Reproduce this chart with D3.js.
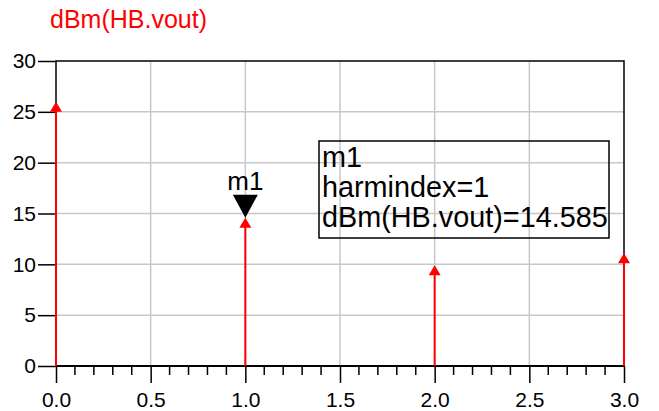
<!DOCTYPE html>
<html>
<head>
<meta charset="utf-8">
<script src="https://cdn.jsdelivr.net/npm/d3@7"></script>
<style>
  body { margin: 0; background: #fff; }
  text { font-family: Arial, "Liberation Sans", sans-serif; }
</style>
</head>
<body>
<svg id="chart"></svg>
<script>
// harmonic spectrum data
const harmindex = [0, 1, 2, 3];
const dbmVout = [26.0, 14.585, 9.9, 11.1];
const xTickLabels = ["0.0", "0.5", "1.0", "1.5", "2.0", "2.5", "3.0"];
const yTickLabels = ["0", "5", "10", "15", "20", "25", "30"];
const markerName = "m1";
const markerIndex = 1;

const W = 659, H = 411;
const margin = { top: 61, right: 35, bottom: 45, left: 56 };

const svg = d3.select("#chart").attr("width", W).attr("height", H);

const x = d3.scaleLinear().domain([0, 3]).range([margin.left, W - margin.right]);
const y = d3.scaleLinear().domain([0, 30]).range([H - margin.bottom, margin.top]);

// title
svg.append("text")
   .attr("x", 50).attr("y", 28)
   .attr("fill", "#ff0000")
   .attr("font-size", 25)
   .text("dBm(HB.vout)");

// grid lines
const gx = xTickLabels.map(Number).filter(v => v > 0 && v < 3);
const gy = yTickLabels.map(Number).filter(v => v > 0 && v < 30);
svg.append("g").selectAll("line").data(gx).enter().append("line")
   .attr("x1", d => x(d)).attr("x2", d => x(d))
   .attr("y1", y(0)).attr("y2", y(30))
   .attr("stroke", "#c8c8c8").attr("stroke-width", 1.5);
svg.append("g").selectAll("line").data(gy).enter().append("line")
   .attr("x1", x(0)).attr("x2", x(3))
   .attr("y1", d => y(d)).attr("y2", d => y(d))
   .attr("stroke", "#c8c8c8").attr("stroke-width", 1.5);

// frame (top, left, right)
svg.append("path")
   .attr("d", `M${x(0)},${y(0)}V${y(30)}H${x(3)}V${y(0)}`)
   .attr("fill", "none").attr("stroke", "#000").attr("stroke-width", 1.5);

// x axis: major ticks every 0.5, minor every 0.1
const xAxis = d3.axisBottom(x)
   .tickValues(xTickLabels.map(Number))
   .tickFormat((d, i) => xTickLabels[i])
   .tickSize(17).tickPadding(9);
const gX = svg.append("g")
   .attr("transform", `translate(0,${y(0)})`)
   .call(xAxis);
gX.select(".domain").attr("stroke-width", 2).attr("d", `M${x(0)},0H${x(3)}`);
gX.selectAll(".tick line").attr("stroke-width", 1.5);
gX.selectAll(".tick text").attr("font-size", 21).attr("fill", "#000")
   .attr("font-family", "Arial, 'Liberation Sans', sans-serif");

const minor = d3.range(0, 31).map(i => i / 10).filter(v => Math.round(v * 10) % 5 !== 0);
svg.append("g").selectAll("line").data(minor).enter().append("line")
   .attr("x1", d => x(d)).attr("x2", d => x(d))
   .attr("y1", y(0)).attr("y2", y(0) + 9)
   .attr("stroke", "#000").attr("stroke-width", 1.5);

// y axis
const yAxis = d3.axisLeft(y)
   .tickValues(yTickLabels.map(Number))
   .tickFormat((d, i) => yTickLabels[i])
   .tickSize(18).tickPadding(2);
const gY = svg.append("g")
   .attr("transform", `translate(${x(0)},0)`)
   .call(yAxis);
gY.select(".domain").remove();
gY.selectAll(".tick line").attr("stroke-width", 1.5);
gY.selectAll(".tick text").attr("font-size", 21).attr("fill", "#000")
   .attr("font-family", "Arial, 'Liberation Sans', sans-serif");

// stems with arrow heads
const pts = harmindex.map((h, i) => ({ h: h, v: dbmVout[i] }));
svg.append("g").selectAll("line").data(pts).enter().append("line")
   .attr("x1", d => x(d.h)).attr("x2", d => x(d.h))
   .attr("y1", y(0)).attr("y2", d => y(d.v) + 4)
   .attr("stroke", "#ff0000").attr("stroke-width", 2);
svg.append("g").selectAll("path").data(pts).enter().append("path")
   .attr("d", d => `M${x(d.h)},${y(d.v)}l6,10h-12z`)
   .attr("fill", "#ff0000");

// marker m1
const mv = dbmVout[harmindex.indexOf(markerIndex)];
const mx = x(markerIndex), my = y(mv);
svg.append("path")
   .attr("d", `M${mx},${my}l12.5,-23h-25z`)
   .attr("fill", "#000");
svg.append("text")
   .attr("x", mx).attr("y", my - 28)
   .attr("text-anchor", "middle")
   .attr("font-size", 26)
   .text(markerName);

// marker readout box
svg.append("rect")
   .attr("x", 319).attr("y", 141).attr("width", 290).attr("height", 97)
   .attr("fill", "none").attr("stroke", "#000").attr("stroke-width", 1.5);
const lines = [markerName, "harmindex=" + markerIndex, "dBm(HB.vout)=" + mv.toFixed(3)];
svg.append("g").selectAll("text").data(lines).enter().append("text")
   .attr("x", 322).attr("y", (d, i) => 167 + i * 30)
   .attr("font-size", 28.8)
   .text(d => d);
</script>
</body>
</html>
